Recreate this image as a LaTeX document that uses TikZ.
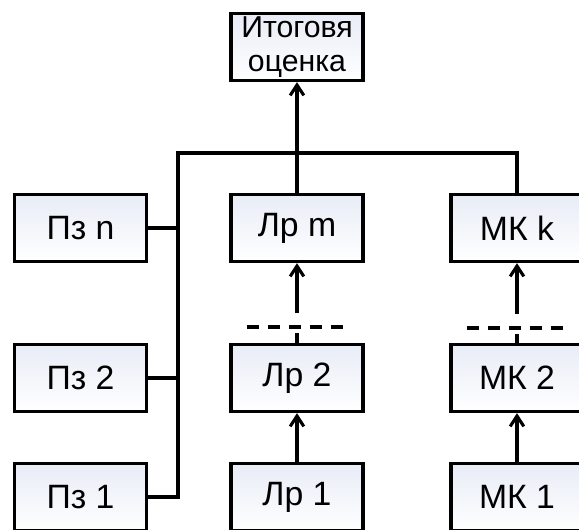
\documentclass[tikz,border=0pt]{standalone}
\usepackage{fontspec}
\setmainfont{Liberation Sans}
\usepackage{xcolor}
\usepackage{tikz}
\usetikzlibrary{arrows.meta}

\definecolor{boxtop}{RGB}{232,236,246}

\tikzset{
  blok/.style={draw=black, line width=2.2pt, top color=boxtop, bottom color=white,
    minimum width=3.3cm, minimum height=1.68cm, align=center, inner sep=1pt,
    font=\fontsize{24}{24.5}\selectfont},
  wire/.style={line width=2.2pt},
  arr/.style={line width=2.2pt, -{Straight Barb[length=2.6mm,width=3.4mm,line width=2.2pt]}},
  gap/.style={line width=2.2pt, dash pattern=on 8.5pt off 6.4pt}
}

\begin{document}
\begin{tikzpicture}[x=0.025cm,y=-0.025cm]

\clip (0,0) rectangle (579,529);
\fill[white] (0,0) rectangle (579,529);

% final mark
\node[blok, font=\fontsize{21.5}{24}\selectfont] (itog) at (297,47) {Итоговя\\оценка};

% practical works
\node[blok] (pzn) at (80.5,228) {Пз n};
\node[blok] (pz2) at (80.5,378) {Пз 2};
\node[blok] (pz1) at (80.5,497) {Пз 1};

% lab works
\node[blok] (lrm) at (297,228) {Лр m};
\node[blok] (lr2) at (297,378) {Лр 2};
\node[blok] (lr1) at (297,497) {Лр 1};

% checkpoints
\node[blok] (mkk) at (517,228) {МК k};
\node[blok] (mk2) at (517,378) {МК 2};
\node[blok] (mk1) at (517,497) {МК 1};

% bus
\coordinate (busl) at (178,153);
\coordinate (busr) at (517,153);
\draw[wire] (pz1.east) -- (pz1.east -| busl) -- (busl) -- (busr) -- (mkk.north);
\draw[wire] (pzn.east) -- (pzn.east -| busl);
\draw[wire] (pz2.east) -- (pz2.east -| busl);
\draw[arr] (lrm.north) -- (itog.south);

% gaps in the columns
\draw[gap] (247,327) -- (349,327);
\draw[gap] (467,328) -- (570,328);

\coordinate (lrtop) at (297,313);
\coordinate (lrbot) at (297,333);
\coordinate (mktop) at (517,314);
\coordinate (mkbot) at (517,334);

\draw[arr] (lrtop) -- (lrm.south);
\draw[wire] (lrbot) -- (lr2.north);
\draw[arr] (lr1.north) -- (lr2.south);

\draw[arr] (mktop) -- (mkk.south);
\draw[wire] (mkbot) -- (mk2.north);
\draw[arr] (mk1.north) -- (mk2.south);

\end{tikzpicture}
\end{document}
